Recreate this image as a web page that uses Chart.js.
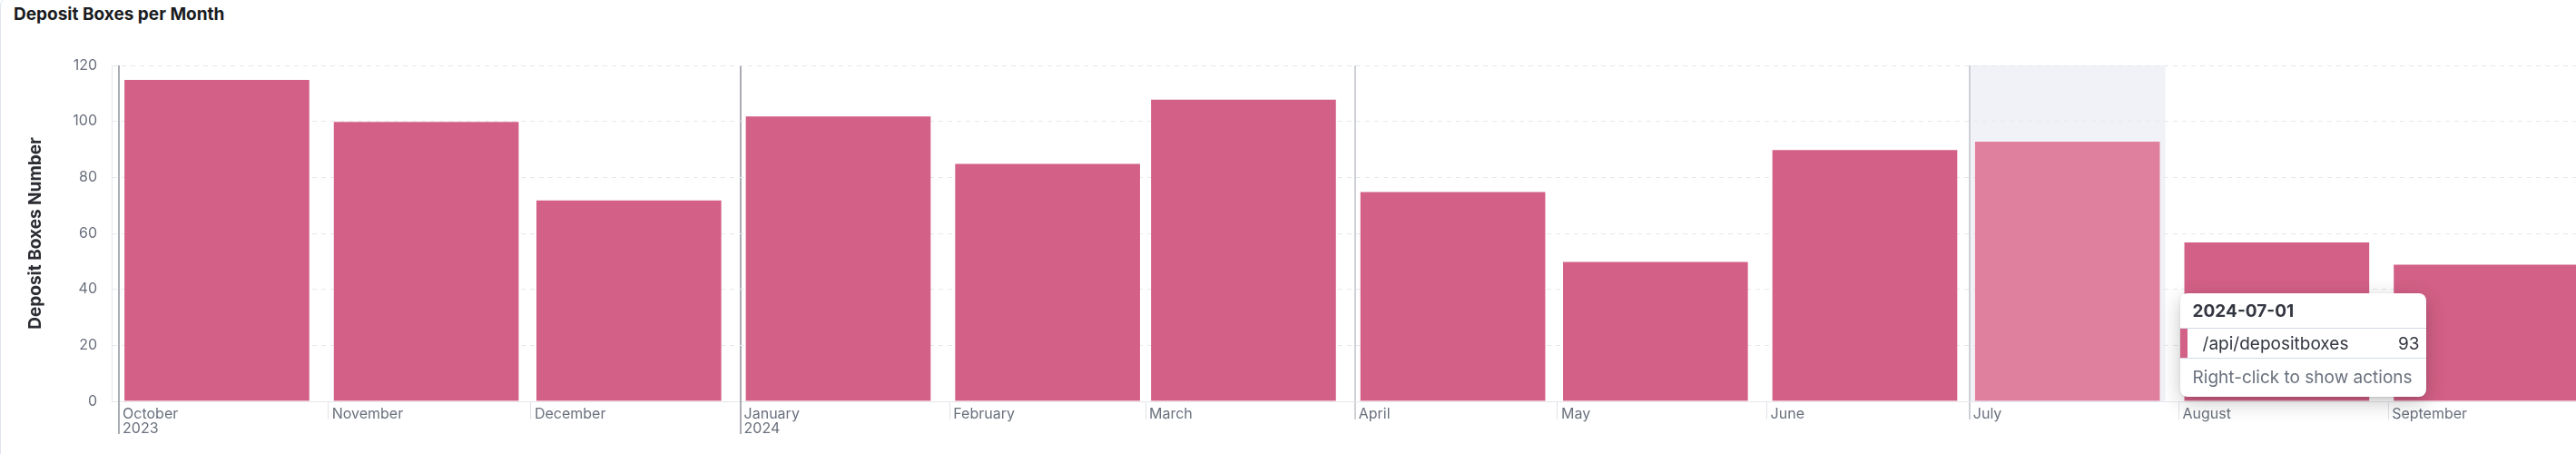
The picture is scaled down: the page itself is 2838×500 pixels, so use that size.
<!DOCTYPE html>
<html>
<head>
<meta charset="utf-8">
<title>Deposit Boxes per Month</title>
<script src="https://cdn.jsdelivr.net/npm/chart.js@4.4.1/dist/chart.umd.min.js"></script>
<style>
  html, body { margin: 0; padding: 0; background: #fff; }
  body { width: 2838px; height: 500px; position: relative; overflow: hidden; font-family: Inter, "Noto Sans", sans-serif; }
  #panel { position: absolute; left: 0; top: -2px; width: 2900px; height: 600px; border: 1px solid #dfe5ef; border-radius: 8px; box-sizing: border-box; }
  #heading { position: absolute; left: 15px; top: 6px; font: 700 19px/19px Inter, sans-serif; color: #1a1c21; }
  #chart { position: absolute; left: 0; top: 0; }
  #tip { position: absolute; display: none; width: 271px; background: #fff; border-radius: 8px;
         box-shadow: 0 6px 22px rgba(0,0,0,.22), 0 1px 3px rgba(0,0,0,.12);
         font: 19px Inter, sans-serif; color: #343741; overflow: hidden; }
  #tip .hd { height: 39px; line-height: 39px; padding-left: 14px; font-weight: 700; border-bottom: 1px solid #d3dae6; box-sizing: border-box; }
  #tip .row { position: relative; height: 33px; line-height: 33px; padding: 0 7px 0 25px; border-bottom: 1px solid #d3dae6;
              display: flex; justify-content: space-between; box-sizing: border-box; }
  #tip .sw { position: absolute; left: 0; top: 0; bottom: 0; width: 8px; }
  #tip .ft { height: 42px; line-height: 42px; padding-left: 14px; color: #69707d; }
</style>
</head>
<body>
<div id="panel"></div>
<div id="heading">Deposit Boxes per Month</div>
<canvas id="chart" width="2838" height="500"></canvas>
<div id="tip">
  <div class="hd"></div>
  <div class="row"><span class="sw"></span><span class="name"></span><span class="val"></span></div>
  <div class="ft">Right-click to show actions</div>
</div>
<script>
const months = ["2023-10-01", "2023-11-01", "2023-12-01", "2024-01-01", "2024-02-01", "2024-03-01",
                "2024-04-01", "2024-05-01", "2024-06-01", "2024-07-01", "2024-08-01", "2024-09-01"];
const monthNames = ["October", "November", "December", "January", "February", "March",
                    "April", "May", "June", "July", "August", "September"];
const boxes = [115, 100, 72, 102, 85, 108, 75, 50, 90, 93, 57, 49];
const seriesName = "/api/depositboxes";
const hoveredIndex = 9;

const barColor = "#d36086";
const hoverColor = "#df809f";
const yearLine = "#a9acb3";
const quarterLine = "#cdd0d5";
const bandDays = 29; // shortest month, used as bar slot width

const DAY = 86400000;
const origin = Date.parse(months[0]);
const monthStart = months.map(s => (Date.parse(s) - origin) / DAY);
const monthOf = i => new Date(months[i]).getUTCMonth();
const isYearStart = i => i === 0 || monthOf(i) === 0;

function tickLabel(i) {
  const d = new Date(months[i]);
  if (isYearStart(i)) return [monthNames[i], String(d.getUTCFullYear())];
  return monthNames[i];
}

function gridKind(ctx) {
  const i = ctx.index;
  if (i == null || i < 0 || i >= months.length) return "none";
  if (isYearStart(i)) return "year";
  if (monthOf(i) % 3 === 0) return "quarter";
  return "month";
}

// light band behind the hovered month
const hoverBand = {
  id: "hoverBand",
  beforeDraw(chart) {
    const { ctx, chartArea, scales: { x } } = chart;
    const x0 = x.getPixelForValue(monthStart[hoveredIndex]);
    const x1 = x.getPixelForValue(monthStart[hoveredIndex] + bandDays);
    ctx.save();
    ctx.fillStyle = "#f1f2f7";
    ctx.fillRect(x0, chartArea.top, x1 - x0, chartArea.bottom - chartArea.top);
    ctx.restore();
  }
};

// year ticks run down past the second label line
const yearTicks = {
  id: "yearTicks",
  afterDraw(chart) {
    const { ctx, chartArea, scales: { x } } = chart;
    ctx.save();
    ctx.strokeStyle = yearLine;
    ctx.lineWidth = 2;
    months.forEach((m, i) => {
      if (!isYearStart(i)) return;
      const px = Math.round(x.getPixelForValue(monthStart[i]));
      ctx.beginPath();
      ctx.moveTo(px, chartArea.bottom);
      ctx.lineTo(px, chartArea.bottom + 36);
      ctx.stroke();
    });
    ctx.restore();
  }
};

function externalTip({ chart, tooltip }) {
  const el = document.getElementById("tip");
  if (!tooltip.dataPoints || !tooltip.dataPoints.length) { el.style.display = "none"; return; }
  const p = tooltip.dataPoints[0];
  el.querySelector(".hd").textContent = months[p.dataIndex];
  el.querySelector(".name").textContent = seriesName;
  el.querySelector(".val").textContent = p.raw.y;
  el.querySelector(".sw").style.background = barColor;
  const xs = chart.scales.x;
  el.style.left = (xs.getPixelForValue(monthStart[p.dataIndex] + bandDays) + 16) + "px";
  el.style.top = (chart.chartArea.bottom - 119) + "px";
  el.style.display = "block";
}

Chart.defaults.font.family = "Inter, 'Noto Sans', sans-serif";

const chart = new Chart(document.getElementById("chart"), {
  type: "bar",
  data: {
    datasets: [{
      label: seriesName,
      data: boxes.map((v, i) => ({ x: monthStart[i] + bandDays / 2, y: v })),
      backgroundColor: ctx => ctx.dataIndex === hoveredIndex ? hoverColor : barColor,
      borderColor: "rgba(255,255,255,0.35)",
      borderWidth: 1,
      barThickness: 205
    }]
  },
  options: {
    responsive: false,
    animation: false,
    layout: { padding: { top: 72, right: 0, bottom: 0, left: 0 } },
    plugins: {
      legend: { display: false },
      tooltip: { enabled: false, external: externalTip }
    },
    scales: {
      x: {
        type: "linear",
        offset: false,
        min: -1.08,
        max: 363.8,
        afterBuildTicks: s => { s.ticks = monthStart.map(v => ({ value: v })); },
        afterFit: s => { s.height = 58; },
        ticks: {
          autoSkip: false,
          maxRotation: 0,
          align: "start",
          labelOffset: 4,
          padding: -14,
          color: "#69707d",
          font: { size: 16, lineHeight: 1 },
          callback: (v, i) => tickLabel(i)
        },
        grid: {
          offset: false,
          drawOnChartArea: true,
          tickLength: 20,
          color: ctx => {
            const k = gridKind(ctx);
            return k === "year" ? yearLine : k === "quarter" ? quarterLine : "rgba(0,0,0,0)";
          },
          tickColor: ctx => {
            const k = gridKind(ctx);
            return k === "year" ? yearLine : k === "quarter" ? quarterLine : "#e0e3e8";
          },
          lineWidth: ctx => {
            const k = gridKind(ctx);
            return (k === "year" || k === "quarter") ? 2 : 1;
          }
        },
        border: { display: true, color: "#e6e8ee", width: 1 }
      },
      y: {
        min: 0,
        max: 120,
        afterFit: s => { s.width = 123; },
        ticks: { stepSize: 20, padding: 16, color: "#69707d", font: { size: 16 } },
        grid: { color: "#e6e8ef", drawTicks: false },
        border: { display: true, color: "#e6e8ee", width: 1, dash: [5, 5] },
        title: {
          display: true,
          text: "Deposit Boxes Number",
          color: "#2b2d33",
          font: { size: 19, weight: "700", lineHeight: 1.2 },
          padding: { top: 27.6, bottom: 0 }
        }
      }
    }
  },
  plugins: [hoverBand, yearTicks]
});

chart.tooltip.setActiveElements([{ datasetIndex: 0, index: hoveredIndex }], { x: 0, y: 0 });
chart.draw();
</script>
</body>
</html>
